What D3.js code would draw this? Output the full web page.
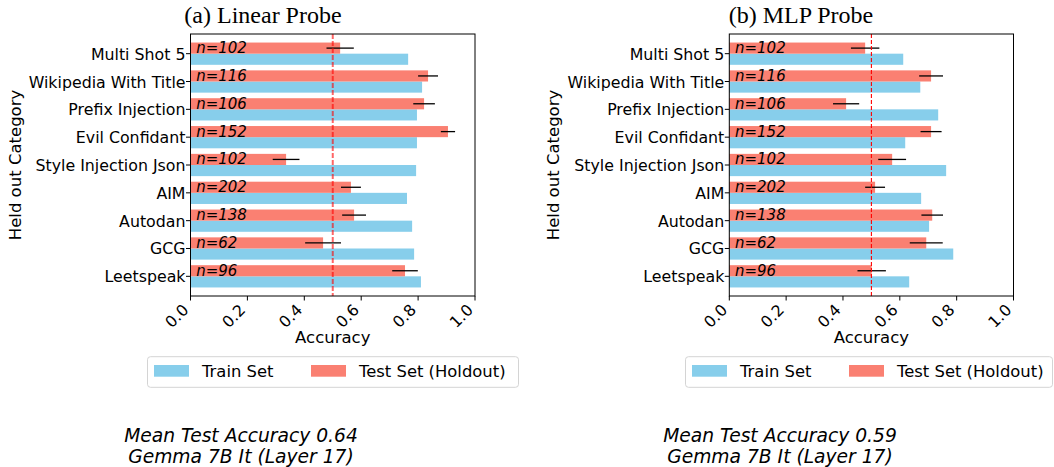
<!DOCTYPE html>
<html lang="en">
<head>
  <meta charset="UTF-8">
  <title>Held out category accuracy</title>
  <script src="https://d3js.org/d3.v7.min.js"></script>
  <style>
    body {
      background: #fff;
      margin: 0;
    }
    text {
      font-family: 'DejaVu Sans', sans-serif;
      fill: #000;
    }
    .title {
      font-family: 'Liberation Serif', 'Times New Roman', serif;
      font-size: 24px;
      text-anchor: middle;
    }
    .tick-label {
      font-size: 15.8px;
    }
    .axis-label {
      font-size: 16.5px;
      text-anchor: middle;
    }
    .n-label {
      font-size: 15px;
      font-style: italic;
    }
    .legend-text {
      font-size: 16.4px;
    }
    .note {
      font-size: 18.7px;
      font-style: italic;
      text-anchor: middle;
    }
  </style>
</head>
<body>
  <script>
    var categories = ["Multi Shot 5", "Wikipedia With Title", "Prefix Injection", "Evil Confidant",
      "Style Injection Json", "AIM", "Autodan", "GCG", "Leetspeak"];
    var nTest = [102, 116, 106, 152, 102, 202, 138, 62, 96];

    var linearTrain = [0.765, 0.814, 0.796, 0.796, 0.793, 0.761, 0.779, 0.786, 0.810];
    var linearTest = [0.526, 0.835, 0.821, 0.905, 0.336, 0.564, 0.575, 0.466, 0.754];
    var linearErr = [0.048, 0.035, 0.038, 0.025, 0.047, 0.035, 0.042, 0.063, 0.045];

    var mlpTrain = [0.612, 0.672, 0.735, 0.619, 0.763, 0.675, 0.703, 0.788, 0.633];
    var mlpTest = [0.478, 0.710, 0.411, 0.710, 0.573, 0.513, 0.714, 0.693, 0.501];
    var mlpErr = [0.050, 0.042, 0.046, 0.037, 0.049, 0.035, 0.038, 0.058, 0.050];

    var xTicks = [0.0, 0.2, 0.4, 0.6, 0.8, 1.0];
    var chanceLevel = 0.5;

    var panels = [
      { title: "(a) Linear Probe", titleX: 263, left: 190.5, right: 475,
        train: linearTrain, test: linearTest, err: linearErr,
        line: { color: "red", opacity: 0.6, width: 2, dash: "5,2" },
        legendX: 147.5, legendW: 371, noteX: 241,
        note: ["Mean Test Accuracy 0.64", "Gemma 7B It (Layer 17)"] },
      { title: "(b) MLP Probe", titleX: 801, left: 729.3, right: 1013.5,
        train: mlpTrain, test: mlpTest, err: mlpErr,
        line: { color: "red", opacity: 1, width: 1.1, dash: "4,2" },
        legendX: 685.5, legendW: 367, noteX: 780,
        note: ["Mean Test Accuracy 0.59", "Gemma 7B It (Layer 17)"] }
    ];

    var width = 1054, height = 467;
    var plotTop = 34, plotBottom = 296;
    var trainColor = "#87ceeb", testColor = "#fa8072";

    var svg = d3.select("body").append("svg")
      .attr("width", width)
      .attr("height", height);

    var y = d3.scalePoint()
      .domain(categories)
      .range([plotTop, plotBottom])
      .padding(0.707);
    var barH = y.step() * 0.4;

    panels.forEach(function(p) {
      var x = d3.scaleLinear().domain([0, 1]).range([p.left, p.right]);
      var g = svg.append("g");

      g.append("text")
        .classed("title", true)
        .attr("x", p.titleX)
        .attr("y", 22.5)
        .text(p.title);

      // train bars below the tick, test bars above it
      g.selectAll(".train")
        .data(categories)
        .enter()
        .append("rect")
        .classed("train", true)
        .attr("x", x(0))
        .attr("y", function(d) { return y(d); })
        .attr("width", function(d, i) { return x(p.train[i]) - x(0); })
        .attr("height", barH)
        .attr("fill", trainColor);

      g.selectAll(".test")
        .data(categories)
        .enter()
        .append("rect")
        .classed("test", true)
        .attr("x", x(0))
        .attr("y", function(d) { return y(d) - barH; })
        .attr("width", function(d, i) { return x(p.test[i]) - x(0); })
        .attr("height", barH)
        .attr("fill", testColor);

      g.selectAll(".err")
        .data(categories)
        .enter()
        .append("line")
        .classed("err", true)
        .attr("x1", function(d, i) { return x(p.test[i] - p.err[i]); })
        .attr("x2", function(d, i) { return x(p.test[i] + p.err[i]); })
        .attr("y1", function(d) { return y(d) - barH / 2; })
        .attr("y2", function(d) { return y(d) - barH / 2; })
        .attr("stroke", "#000")
        .attr("stroke-width", 1.3);

      g.append("line")
        .attr("x1", x(chanceLevel))
        .attr("x2", x(chanceLevel))
        .attr("y1", plotTop)
        .attr("y2", plotBottom)
        .attr("stroke", p.line.color)
        .attr("stroke-opacity", p.line.opacity)
        .attr("stroke-width", p.line.width)
        .attr("stroke-dasharray", p.line.dash);

      g.selectAll(".n-label")
        .data(categories)
        .enter()
        .append("text")
        .classed("n-label", true)
        .attr("x", x(0.02))
        .attr("y", function(d) { return y(d) - barH / 2 + 5; })
        .text(function(d, i) { return "n=" + nTest[i]; });

      // frame
      g.append("rect")
        .attr("x", p.left)
        .attr("y", plotTop)
        .attr("width", p.right - p.left)
        .attr("height", plotBottom - plotTop)
        .attr("fill", "none")
        .attr("stroke", "#000")
        .attr("stroke-width", 1);

      // y ticks
      g.selectAll(".ytick")
        .data(categories)
        .enter()
        .append("line")
        .classed("ytick", true)
        .attr("x1", p.left - 4.5)
        .attr("x2", p.left)
        .attr("y1", function(d) { return y(d); })
        .attr("y2", function(d) { return y(d); })
        .attr("stroke", "#000");

      g.selectAll(".ylab")
        .data(categories)
        .enter()
        .append("text")
        .classed("tick-label ylab", true)
        .attr("text-anchor", "end")
        .attr("x", p.left - 5)
        .attr("y", function(d) { return y(d) + 6; })
        .text(function(d) { return d; });

      // x ticks
      g.selectAll(".xtick")
        .data(xTicks)
        .enter()
        .append("line")
        .classed("xtick", true)
        .attr("x1", function(d) { return x(d); })
        .attr("x2", function(d) { return x(d); })
        .attr("y1", plotBottom)
        .attr("y2", plotBottom + 4.5)
        .attr("stroke", "#000");

      g.selectAll(".xlab")
        .data(xTicks)
        .enter()
        .append("text")
        .classed("tick-label xlab", true)
        .attr("text-anchor", "end")
        .attr("transform", function(d) {
          return "translate(" + (x(d) - 1) + "," + (plotBottom + 15) + ") rotate(-45)";
        })
        .text(function(d) { return d3.format(".1f")(d); });

      g.append("text")
        .classed("axis-label", true)
        .attr("x", (p.left + p.right) / 2)
        .attr("y", 343)
        .text("Accuracy");

      g.append("text")
        .classed("axis-label", true)
        .attr("transform", "translate(" + (p.left - 170) + "," + 165 + ") rotate(-90)")
        .text("Held out Category");

      // legend
      var legend = g.append("g");
      legend.append("rect")
        .attr("x", p.legendX)
        .attr("y", 356.7)
        .attr("width", p.legendW)
        .attr("height", 30.6)
        .attr("rx", 3)
        .attr("fill", "#fff")
        .attr("stroke", "#d4d4d4")
        .attr("stroke-width", 1);

      var items = [
        { label: "Train Set", color: trainColor, dx: 6.5 },
        { label: "Test Set (Holdout)", color: testColor, dx: 163.5 }
      ];
      items.forEach(function(it) {
        legend.append("rect")
          .attr("x", p.legendX + it.dx)
          .attr("y", 365)
          .attr("width", 35)
          .attr("height", 11.7)
          .attr("fill", it.color);
        legend.append("text")
          .classed("legend-text", true)
          .attr("x", p.legendX + it.dx + 48)
          .attr("y", 376.5)
          .text(it.label);
      });

      g.selectAll(".note")
        .data(p.note)
        .enter()
        .append("text")
        .classed("note", true)
        .attr("x", p.noteX)
        .attr("y", function(d, i) { return 441.5 + i * 21.8; })
        .text(function(d) { return d; });
    });
  </script>
</body>
</html>
